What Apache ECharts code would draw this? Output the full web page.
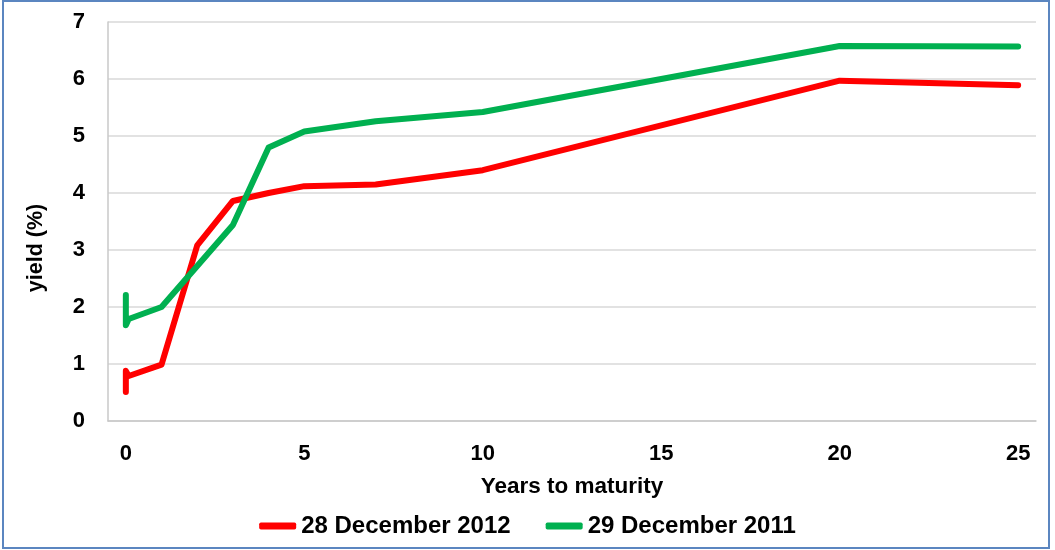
<!DOCTYPE html>
<html>
<head>
<meta charset="utf-8">
<script src="https://cdn.jsdelivr.net/npm/echarts@6/dist/echarts.min.js"></script>
<style>
html,body{margin:0;padding:0;background:#fff;}
#chart{width:1055px;height:550px;}
</style>
</head>
<body>
<div id="chart"></div>
<script>
// Data
const seriesNames = ['28 December 2012', '29 December 2011'];
const maturity2012 = [0, 0, 0.08, 1, 2, 3, 4, 5, 7, 10, 20, 25];
const yield2012    = [0.51, 0.88, 0.79, 0.99, 3.08, 3.86, 4.0, 4.12, 4.15, 4.4, 5.97, 5.89];
const maturity2011 = [0, 0, 0.08, 1, 2, 3, 4, 5, 7, 10, 20, 25];
const yield2011    = [2.21, 1.68, 1.79, 2.0, 2.72, 3.44, 4.8, 5.08, 5.26, 5.42, 6.58, 6.57];
const xTicks = [0, 5, 10, 15, 20, 25];
const yTicks = [0, 1, 2, 3, 4, 5, 6, 7];

const pairs = (xs, ys) => xs.map((x, i) => [x, ys[i]]);
const FONT = 'Liberation Sans, Arial, sans-serif';

const chart = echarts.init(document.getElementById('chart'), null, {renderer: 'canvas'});
chart.setOption({
  animation: false,
  backgroundColor: '#ffffff',
  grid: {left: 108, right: 19, top: 22, bottom: 129, containLabel: false},
  xAxis: {
    type: 'value',
    min: -0.5,
    max: 25.5,
    name: 'Years to maturity',
    nameLocation: 'middle',
    nameGap: 54,
    nameTextStyle: {fontFamily: FONT, fontWeight: 'bold', fontSize: 22.5, color: '#000'},
    axisLine: {show: true, onZero: false, lineStyle: {color: '#C8C8C8', width: 1.5}},
    axisTick: {show: false},
    splitLine: {show: false},
    axisLabel: {
      customValues: xTicks,
      margin: 22,
      fontFamily: FONT, fontWeight: 'bold', fontSize: 22, color: '#000'
    }
  },
  yAxis: {
    type: 'value',
    min: yTicks[0],
    max: yTicks[yTicks.length - 1],
    interval: 1,
    axisLine: {show: true, onZero: false, lineStyle: {color: '#C8C8C8', width: 1.5}},
    axisTick: {show: false},
    splitLine: {show: true, lineStyle: {color: '#D9D9D9', width: 1.5}},
    axisLabel: {margin: 23, fontFamily: FONT, fontWeight: 'bold', fontSize: 22, color: '#000'}
  },
  legend: {
    left: 'center',
    top: 509,
    icon: 'roundRect',
    itemWidth: 37,
    itemHeight: 7,
    itemGap: 35,
    textStyle: {fontFamily: FONT, fontWeight: 'bold', fontSize: 24, color: '#000'},
    data: seriesNames
  },
  graphic: [
    {
      type: 'rect',
      shape: {x: 3, y: 1, width: 1046, height: 547},
      style: {fill: 'none', stroke: '#5B86C0', lineWidth: 2},
      silent: true
    },
    {
      type: 'text',
      x: 36,
      y: 248,
      rotation: Math.PI / 2,
      style: {
        text: 'yield (%)',
        fontFamily: FONT, fontWeight: 'bold', fontSize: 21.5, fill: '#000',
        align: 'center', verticalAlign: 'middle'
      }
    }
  ],
  series: [
    {
      name: seriesNames[0],
      type: 'line',
      data: pairs(maturity2012, yield2012),
      showSymbol: false,
      symbol: 'none',
      color: '#FF0000',
      lineStyle: {color: '#FF0000', width: 6, cap: 'round', join: 'round'}
    },
    {
      name: seriesNames[1],
      type: 'line',
      data: pairs(maturity2011, yield2011),
      showSymbol: false,
      symbol: 'none',
      color: '#00B050',
      lineStyle: {color: '#00B050', width: 6, cap: 'round', join: 'round'}
    }
  ]
});
</script>
</body>
</html>
